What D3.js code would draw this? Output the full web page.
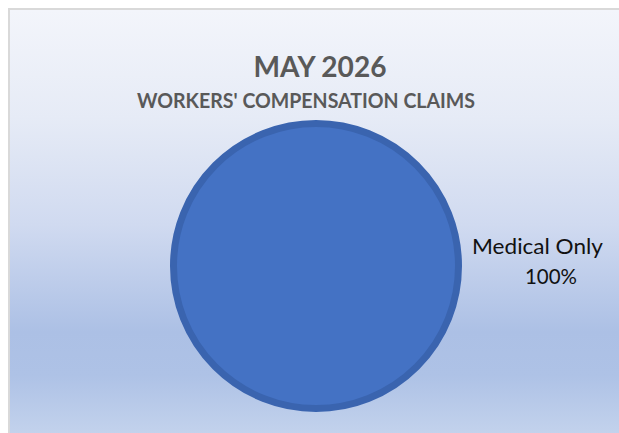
<!DOCTYPE html>
<html>
<head>
<meta charset="utf-8">
<script src="https://cdn.jsdelivr.net/npm/d3@7/dist/d3.min.js"></script>
<style>
  html, body { margin: 0; padding: 0; background: #ffffff; }
  svg { display: block; }
</style>
</head>
<body>
<script>
// ---- data ----
const categories = ["Medical Only"];
const values = [100];
const title = "MAY 2026";
const subtitle = "WORKERS' COMPENSATION CLAIMS";

// ---- layout ----
const W = 619, H = 433;
const svg = d3.select("body").append("svg").attr("width", W).attr("height", H);

const defs = svg.append("defs");
const grad = defs.append("linearGradient")
  .attr("id", "bg").attr("gradientUnits", "userSpaceOnUse")
  .attr("x1", 0).attr("y1", 10).attr("x2", 0).attr("y2", 440);
[[0, "#F3F5FB"], [0.25, "#E6EBF6"], [0.5, "#D0DAF0"], [0.75, "#ACC0E5"], [0.85, "#AEC2E6"], [1, "#C5D4ED"]]
  .forEach(([o, c]) => grad.append("stop").attr("offset", o).attr("stop-color", c));

// chart area with border
svg.append("rect").attr("x", 9).attr("y", 9).attr("width", W + 10).attr("height", H + 10)
  .attr("fill", "url(#bg)").attr("stroke", "#D9D9D9").attr("stroke-width", 2);

// titles
svg.append("text").attr("x", 320).attr("y", 77).attr("text-anchor", "middle")
  .attr("font-family", "Lato, 'Open Sans', sans-serif").attr("font-weight", "bold")
  .attr("font-size", 28).attr("fill", "#595959")
  .attr("textLength", 133).attr("lengthAdjust", "spacingAndGlyphs")
  .text(title);
svg.append("text").attr("x", 306).attr("y", 108).attr("text-anchor", "middle")
  .attr("font-family", "Lato, 'Open Sans', sans-serif").attr("font-weight", "bold")
  .attr("font-size", 21).attr("fill", "#595959")
  .attr("textLength", 338).attr("lengthAdjust", "spacingAndGlyphs")
  .text(subtitle);

// pie
const cx = 316, cy = 266, R = 146, ringW = 7;
const pie = d3.pie().sort(null).value(d => d);
const arcs = pie(values);
const arc = d3.arc().innerRadius(0).outerRadius(R - ringW / 2);
const color = d3.scaleOrdinal().domain(categories).range(["#4472C4"]);
const total = d3.sum(values);

const g = svg.append("g").attr("transform", `translate(${cx},${cy})`);
g.selectAll("path").data(arcs).join("path")
  .attr("d", arc)
  .attr("fill", (d, i) => color(categories[i]))
  .attr("stroke", "#3A64AF").attr("stroke-width", ringW);

// data label (best-fit outside right)
const lab = svg.append("text")
  .attr("font-family", "Lato, 'Open Sans', sans-serif").attr("font-size", 21)
  .attr("fill", "#111111").attr("text-anchor", "middle");
arcs.forEach((d, i) => {
  const pct = d3.format(".0%")(d.value / total);
  lab.append("tspan").attr("x", 537.5).attr("y", 254)
    .attr("textLength", 131).attr("lengthAdjust", "spacingAndGlyphs").text(categories[i]);
  lab.append("tspan").attr("x", 551).attr("y", 284)
    .attr("textLength", 52).attr("lengthAdjust", "spacingAndGlyphs").text(pct);
});
</script>
</body>
</html>
